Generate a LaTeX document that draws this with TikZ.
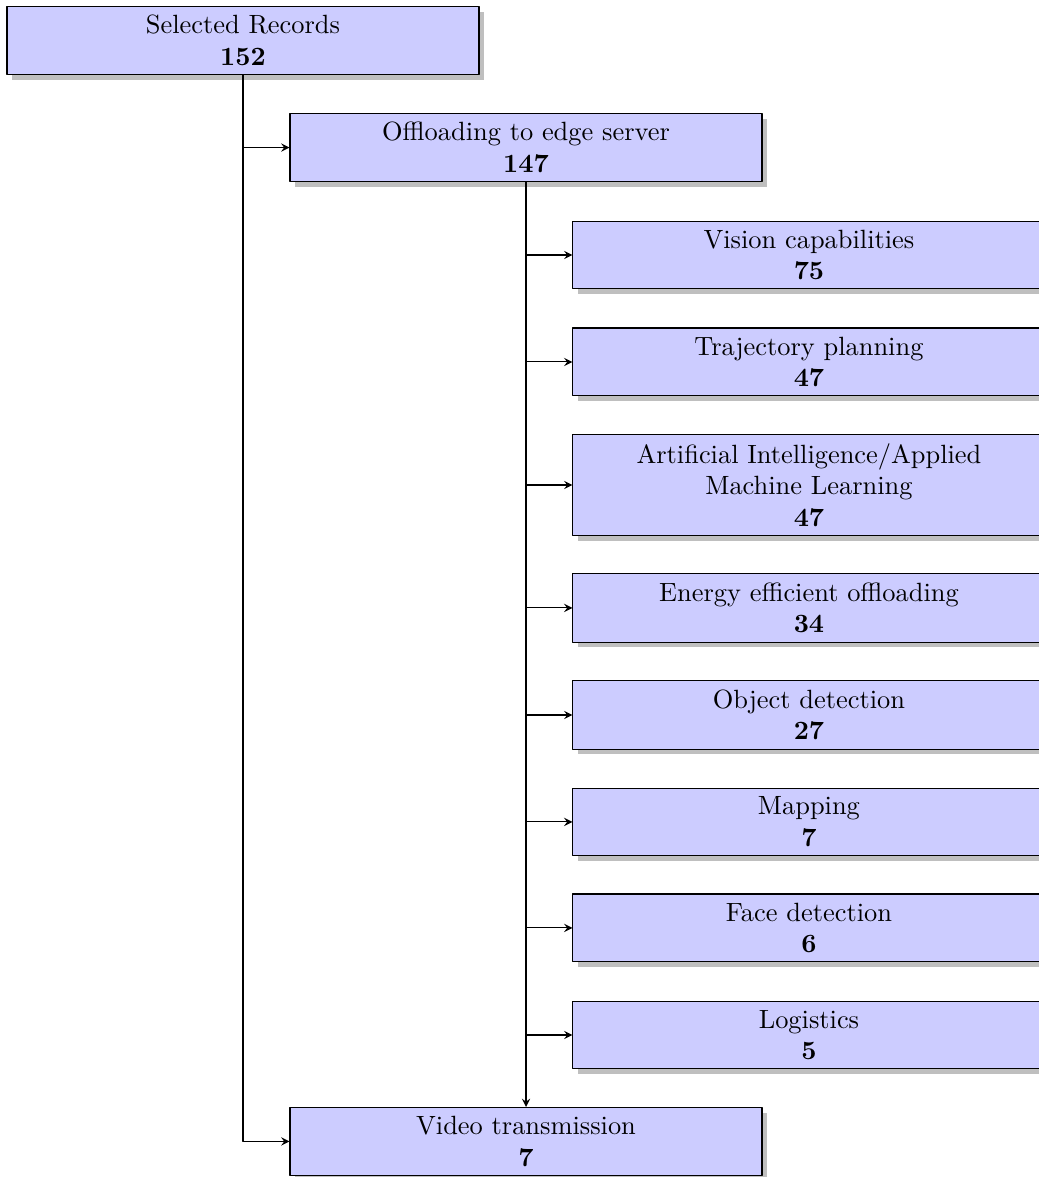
\documentclass[tikz,border=0pt]{standalone}
\usetikzlibrary{shadows}
\begin{document}
\begin{tikzpicture}[>=stealth, line join=round,
	box/.style={draw, fill=blue!20, align=center, minimum width=6.284cm, minimum height=25.7pt,
		drop shadow={shadow xshift=2pt, shadow yshift=-2pt, fill=black!25, opacity=1}}]
	\def\xmax{13.82} \def\ymin{-15.67} \def\xc{10.77}
	\useasboundingbox (0,0) rectangle (\xmax,\ymin);
	\node[box] (sel) at (3.235,-0.539) {Selected Records\\\textbf{152}};
	\node[box] (off) at (7.003,-1.964) {Offloading to edge server\\\textbf{147}};
	\node[box] (vid) at (7.003,-15.197) {Video transmission\\\textbf{7}};
	\foreach \n/\y/\t in {vis/-3.395/{Vision capabilities\\\textbf{75}},
		traj/-4.819/{Trajectory planning\\\textbf{47}},
		ai/-6.457/{Artificial Intelligence/Applied\\Machine Learning\\\textbf{47}},
		ener/-8.094/{Energy efficient offloading\\\textbf{34}},
		obj/-9.519/{Object detection\\\textbf{27}},
		map/-10.943/{Mapping\\\textbf{7}},
		face/-12.354/{Face detection\\\textbf{6}},
		logi/-13.779/{Logistics\\\textbf{5}}}
	{\node[box] (\n) at (\xc,\y) {\t};
		\draw[->] (off.south) |- (\n.west);}
	\draw[->] (sel.south) |- (off.west);
	\draw[->] (sel.south) |- (vid.west);
	\draw[->] (off.south) -- (vid.north);
\end{tikzpicture}
\end{document}
